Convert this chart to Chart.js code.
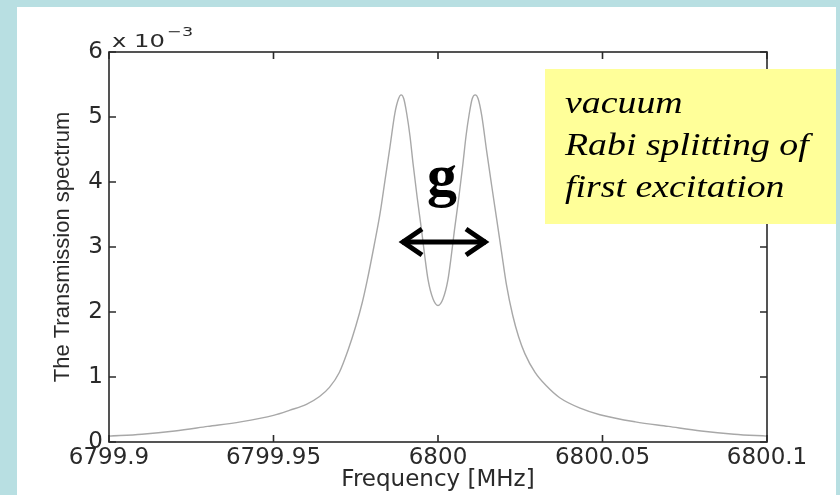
<!DOCTYPE html>
<html>
<head>
<meta charset="utf-8">
<script src="https://cdn.jsdelivr.net/npm/chart.js@4.4.1/dist/chart.umd.min.js"></script>
<style>
  html, body { margin: 0; padding: 0; background: #b8dfe2; }
  #wrap { width: 840px; height: 495px; }
</style>
</head>
<body>
<div id="wrap"><canvas id="specChart" width="840" height="495"></canvas></div>
<script>
// =============================
// DATA
// transmission in units of 1e-3
// =============================
const freqMHz = [
  6799.900, 6799.910, 6799.920, 6799.930, 6799.940, 6799.950, 6799.955, 6799.960,
  6799.964, 6799.967, 6799.970, 6799.9727, 6799.975, 6799.977, 6799.9785, 6799.9805,
  6799.9824, 6799.9839, 6799.9854, 6799.9869, 6799.9880, 6799.9888, 6799.9896, 6799.9905,
  6799.9915, 6799.9924, 6799.9937, 6799.9950, 6799.9960, 6799.9970, 6799.9985, 6800.0000,
  6800.0015, 6800.0030, 6800.0040, 6800.0050, 6800.0063, 6800.0076, 6800.0085, 6800.0095,
  6800.0104, 6800.0113, 6800.0122, 6800.0133, 6800.0148, 6800.0163, 6800.0178, 6800.0193,
  6800.0208, 6800.0227, 6800.0245, 6800.0264, 6800.0295, 6800.0330, 6800.0370, 6800.0432,
  6800.0492, 6800.060, 6800.070, 6800.080, 6800.090, 6800.100
];

const transmission = [
  0.09, 0.12, 0.17, 0.24, 0.31, 0.41, 0.49, 0.58,
  0.70, 0.84, 1.07, 1.42, 1.78, 2.15, 2.49, 3.00,
  3.52, 4.03, 4.54, 5.06, 5.28, 5.34, 5.28, 5.05,
  4.70, 4.29, 3.75, 3.26, 2.85, 2.49, 2.20, 2.10,
  2.20, 2.49, 2.85, 3.26, 3.75, 4.29, 4.70, 5.05,
  5.28, 5.34, 5.28, 5.02, 4.47, 3.95, 3.44, 2.93,
  2.42, 1.95, 1.62, 1.36, 1.07, 0.86, 0.68, 0.52,
  0.42, 0.31, 0.24, 0.17, 0.12, 0.09
];

const xTickValues = [6799.9, 6799.95, 6800, 6800.05, 6800.1];
const xTickLabels = ["6799.9", "6799.95", "6800", "6800.05", "6800.1"];
const yTickValues = [0, 1, 2, 3, 4, 5, 6];
const yTickLabels = ["0", "1", "2", "3", "4", "5", "6"];

const noteLines = ["vacuum", "Rabi splitting of", "first excitation"];

// =============================
// FRAME / DECORATION PLUGIN
// =============================
const framePlugin = {
  id: "frame",
  beforeDraw(chart) {
    const ctx = chart.ctx;
    ctx.save();
    ctx.fillStyle = "#b8dfe2";
    ctx.fillRect(0, 0, chart.width, chart.height);
    ctx.fillStyle = "#ffffff";
    ctx.fillRect(17, 7, 819, 488);
    ctx.restore();
  },
  afterDatasetsDraw(chart) {
    const ctx = chart.ctx;
    const a = chart.chartArea;
    const x = chart.scales.x;
    const y = chart.scales.y;
    ctx.save();
    ctx.strokeStyle = "#2a2a2a";
    ctx.lineWidth = 1.6;
    ctx.strokeRect(a.left, a.top, a.right - a.left, a.bottom - a.top);

    // inward ticks on all four sides
    ctx.beginPath();
    xTickValues.forEach(v => {
      const px = x.getPixelForValue(v);
      ctx.moveTo(px, a.bottom); ctx.lineTo(px, a.bottom - 7);
      ctx.moveTo(px, a.top); ctx.lineTo(px, a.top + 7);
    });
    yTickValues.forEach(v => {
      const py = y.getPixelForValue(v);
      ctx.moveTo(a.left, py); ctx.lineTo(a.left + 7, py);
      ctx.moveTo(a.right, py); ctx.lineTo(a.right - 7, py);
    });
    ctx.stroke();

    // exponent label "x 10^-3"
    ctx.fillStyle = "#2a2a2a";
    ctx.textBaseline = "alphabetic";
    ctx.save();
    ctx.translate(a.left + 3, a.top - 5);
    ctx.scale(1.35, 1);
    ctx.font = "18px 'DejaVu Sans'";
    ctx.fillText("x 10", 0, 0);
    ctx.font = "13px 'DejaVu Sans'";
    ctx.fillText("\u22123", 41, -11);
    ctx.restore();
    ctx.restore();
  },
  afterDraw(chart) {
    const ctx = chart.ctx;
    ctx.save();

    // yellow note box
    ctx.fillStyle = "#ffff99";
    ctx.fillRect(545, 69, 291, 155);
    ctx.fillStyle = "#000";
    ctx.font = "italic 31px 'Liberation Serif'";
    ctx.textBaseline = "alphabetic";
    noteLines.forEach((t, i) => {
      ctx.save();
      ctx.translate(565, 113 + i * 42);
      ctx.scale(1.22, 1);
      ctx.fillText(t, 0, 0);
      ctx.restore();
    });

    // "g" and double arrow
    ctx.font = "bold 60px 'Liberation Serif'";
    ctx.textAlign = "center";
    ctx.fillText("g", 442, 195);

    ctx.strokeStyle = "#000";
    ctx.lineWidth = 5;
    ctx.lineJoin = "miter";
    ctx.beginPath();
    ctx.moveTo(402, 242); ctx.lineTo(486, 242);
    ctx.stroke();
    ctx.beginPath();
    ctx.moveTo(422, 229); ctx.lineTo(403, 242); ctx.lineTo(422, 255);
    ctx.moveTo(466, 229); ctx.lineTo(485, 242); ctx.lineTo(466, 255);
    ctx.stroke();

    ctx.restore();
  }
};

// =============================
// CHART
// =============================
const ctx = document.getElementById("specChart").getContext("2d");

new Chart(ctx, {
  type: "line",
  data: {
    datasets: [{
      label: "Transmission",
      data: freqMHz.map((f, i) => ({ x: f, y: transmission[i] })),
      borderColor: "#a8a8a8",
      borderWidth: 1.4,
      pointRadius: 0,
      fill: false,
      cubicInterpolationMode: "monotone"
    }]
  },
  options: {
    responsive: false,
    animation: false,
    layout: { padding: { left: 0, top: 52, right: 73, bottom: 0 } },
    plugins: {
      legend: { display: false },
      tooltip: { enabled: false }
    },
    scales: {
      x: {
        type: "linear",
        min: 6799.9,
        max: 6800.1,
        afterBuildTicks: s => { s.ticks = xTickValues.map(v => ({ value: v })); },
        afterFit: s => { s.height = 53; },
        grid: { display: false, drawTicks: false },
        border: { display: false },
        ticks: {
          autoSkip: false,
          maxRotation: 0,
          padding: 2,
          color: "#2a2a2a",
          font: { family: "DejaVu Sans", size: 23, lineHeight: 1.2 },
          callback: (v, i) => xTickLabels[i]
        },
        title: {
          display: true,
          text: "Frequency [MHz]",
          color: "#2a2a2a",
          font: { family: "DejaVu Sans", size: 23, lineHeight: 1.2 },
          padding: { top: 0, bottom: 1 }
        }
      },
      y: {
        min: 0,
        max: 6,
        afterBuildTicks: s => { s.ticks = yTickValues.map(v => ({ value: v })); },
        afterFit: s => { s.width = 109; },
        grid: { display: false, drawTicks: false },
        border: { display: false },
        ticks: {
          padding: 6,
          color: "#2a2a2a",
          font: { family: "DejaVu Sans", size: 23, lineHeight: 1.2 },
          callback: (v, i) => yTickLabels[i]
        },
        title: {
          display: true,
          text: "The Transmission spectrum",
          color: "#2a2a2a",
          font: { family: "Liberation Sans", size: 22, lineHeight: 1.2 },
          padding: { top: 50, bottom: 0 }
        }
      }
    }
  },
  plugins: [framePlugin]
});
</script>
</body>
</html>
